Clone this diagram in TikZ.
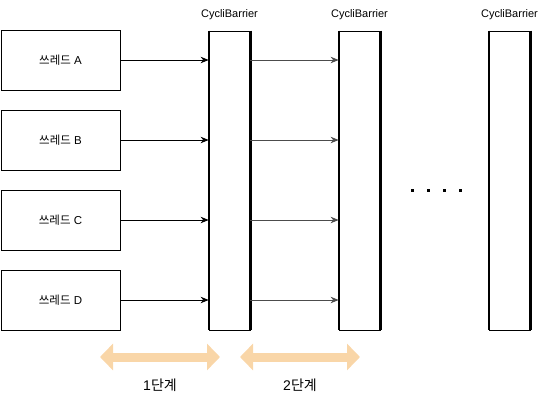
\documentclass[tikz,border=0pt]{standalone}
\usepackage{fontspec}
\setmainfont{Liberation Sans}
\newfontfamily\kor{Noto Sans CJK KR}
\usetikzlibrary{arrows.meta}
\definecolor{stageorange}{RGB}{249,214,168}
\newcommand\thr[1]{{\kor 쓰레드} #1}
\tikzset{
  thread/.style={draw, line width=0.8pt, minimum width=119pt, minimum height=60pt, inner sep=0pt, font=\fontsize{11.5}{13}\selectfont},
  barrier/.style={draw, line width=0.8pt, minimum width=41pt, minimum height=299pt, inner sep=0pt},
  title/.style={font=\fontsize{11}{13}\selectfont},
  go/.style={-{Stealth[length=8pt,width=6.5pt]}, line width=0.7pt},
  stage/.style={stageorange, line width=9pt, {Triangle[width=26pt,length=13pt]}-{Triangle[width=26pt,length=13pt]}},
}
\begin{document}
\begin{tikzpicture}[x=1pt,y=-1pt]
  \useasboundingbox (0,0) rectangle (542,400);
  \node[thread] (tA) at (60.5,60) {\thr{A}};
  \node[thread] (tB) at (60.5,140) {\thr{B}};
  \node[thread] (tC) at (60.5,220) {\thr{C}};
  \node[thread] (tD) at (60.5,300) {\thr{D}};

  \foreach \b/\x in {b1/229.5, b2/359.5, b3/509.5} {
    \node[barrier] (\b) at (\x,180.5) {};
    \draw[line width=2pt] (\b.north west) -- (\b.south west);
    \draw[line width=3.5pt] (\b.north east) -- (\b.south east);
    \node[title] at (\x,15) {CycliBarrier};
  }

  \foreach \t in {tA,tB,tC,tD} {
    \draw[go] (\t.east) -- (\t.east -| b1.west);
    \draw[go, black!70] (\t.east -| b1.east) -- (\t.east -| b2.west);
  }

  \foreach \x in {412,428,444,460}
    \fill (\x-1.5,188.5) rectangle +(3,3);

  \coordinate (s1a) at (100,357);
  \coordinate (s1b) at (220,357);
  \coordinate (s2a) at (240,357);
  \coordinate (s2b) at (360,357);
  \draw[stage] (s1a) -- (s1b);
  \draw[stage] (s2a) -- (s2b);
  \node[font=\fontsize{14}{16}\selectfont] at (160,385) {1{\kor 단계}};
  \node[font=\fontsize{14}{16}\selectfont] at (300,385) {2{\kor 단계}};
\end{tikzpicture}
\end{document}
